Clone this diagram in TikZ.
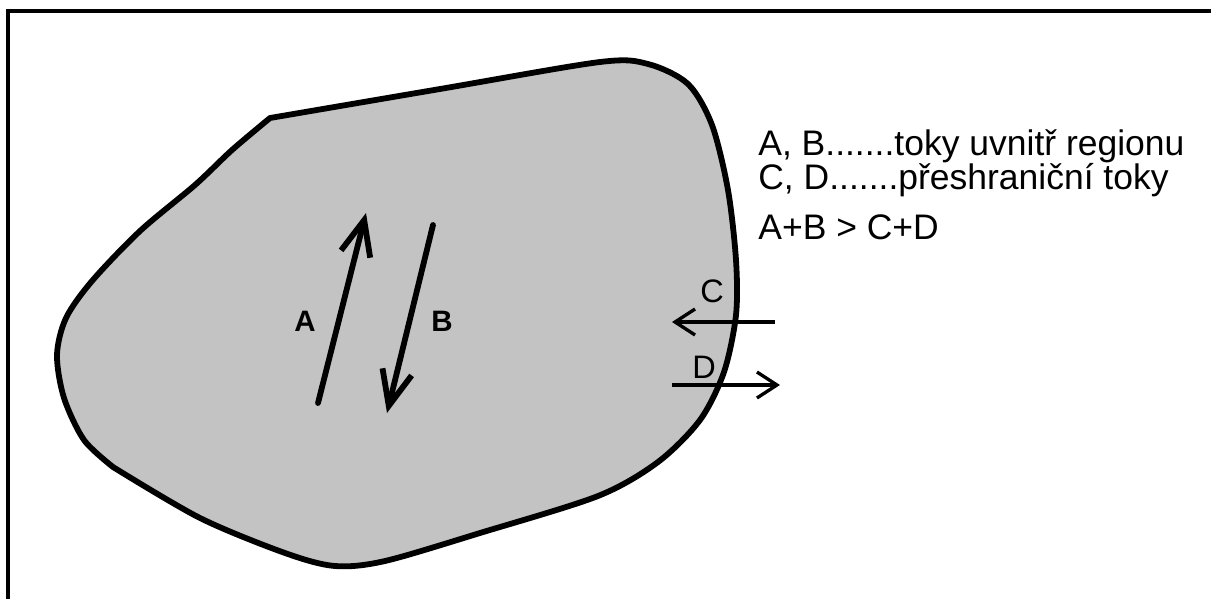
\documentclass[tikz,border=0pt]{standalone}
\usepackage{fontspec}
\setmainfont{Liberation Sans}
\usetikzlibrary{arrows.meta}
\definecolor{regiongray}{RGB}{195,195,195}

\begin{document}
\begin{tikzpicture}[x=0.02cm, y=-0.02cm,
    flow/.style={black, line width=3.3pt, line cap=round,
      -{Straight Barb[length=0.7cm, width=0.6cm]}},
    cross/.style={black, line width=1.9pt,
      -{Straight Barb[length=0.4cm, width=0.52cm]}},
    legend/.style={anchor=base west, inner sep=0, font=\fontsize{20.2}{24}\selectfont},
    flowlabel/.style={anchor=base west, inner sep=0, font=\bfseries\fontsize{16.8}{20}\selectfont},
    crosslabel/.style={anchor=base west, inner sep=0, font=\fontsize{18.5}{22}\selectfont}]
      \useasboundingbox (0,0) rectangle (1211,599);
      % frame
      \draw[black, line width=2pt] (8,599) -- (8,11) -- (1211,11);
      % region
      \draw[black, line width=3.3pt, line join=round, fill=regiongray]
        plot[smooth] coordinates {(270,118) (440,89) (600,62) (648,64) (688,84)
          (712,125) (728,190) (736,260) (736,315) (724,372) (700,420) (658,462)
          (598,496) (480,533) (385,561) (335,566) (285,553) (200,518) (113,467)}
        -- plot[smooth] coordinates {(113,467) (84,440) (64,398) (57,355)
          (66,318) (92,281) (140,231) (195,185) (232,150) (270,118)}
        -- cycle;
      \coordinate (a1) at (318,403);
      \coordinate (a2) at (366,213);
      \coordinate (b1) at (433,225);
      \coordinate (b2) at (387,413);
      \coordinate (c1) at (775,322);
      \coordinate (c2) at (672,322);
      \coordinate (d1) at (672,385);
      \coordinate (d2) at (780,385);
      \draw[flow] (a1) -- (a2);
      \draw[flow] (b1) -- (b2);
      \draw[cross] (c1) -- (c2);
      \draw[cross] (d1) -- (d2);
      \node[flowlabel] (A) at (294,331) {A};
      \node[flowlabel] (B) at (431,331) {B};
      \node[crosslabel] (C) at (700,302) {C};
      \node[crosslabel] (D) at (692,378) {D};
      \node[legend] (l1) at (758,155) {A, B.......toky uvnitř regionu};
      \node[legend] (l2) at (758,189) {C, D.......přeshraniční toky};
      \node[legend] (l3) at (758,239) {A+B > C+D};
\end{tikzpicture}
\end{document}
